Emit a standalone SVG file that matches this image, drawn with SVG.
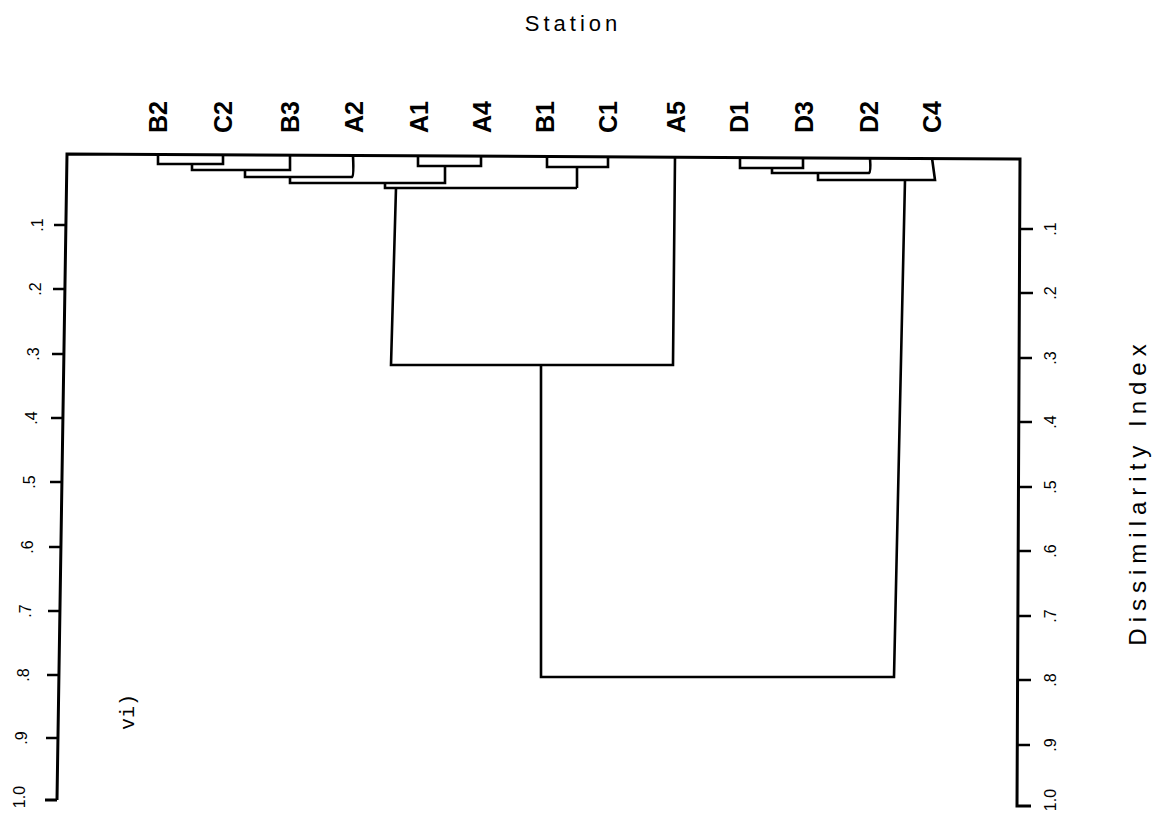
<svg xmlns="http://www.w3.org/2000/svg" width="1168" height="819" viewBox="0 0 1168 819">
  <style>
    .bg { fill: #ffffff; }
    .axis { fill: none; stroke: #000; stroke-width: 3; stroke-linejoin: miter; }
    .tick { stroke: #000; stroke-width: 2.5; }
    .link { fill: none; stroke: #000; stroke-width: 2.6; stroke-linejoin: miter; }
    .leaf { font-family: "Liberation Sans", Arial, sans-serif; font-weight: bold; font-size: 25px; fill: #000; }
    .scale { font-family: "Liberation Sans", Arial, sans-serif; font-size: 16px; fill: #000; text-anchor: middle; }
    .title { font-family: "Liberation Sans", Arial, sans-serif; font-size: 22px; fill: #000; letter-spacing: 4px; }
    .panel { font-family: "Liberation Mono", "Courier New", monospace; font-size: 20px; fill: #000; }
  </style>
  <rect class="bg" x="0" y="0" width="1168" height="819"/>

  <!-- titles -->
  <text class="title" x="573" y="31" text-anchor="middle">Station</text>
  <text class="title" transform="translate(1146,492) rotate(-90)" text-anchor="middle" style="font-size:24px;letter-spacing:6px">Dissimilarity  Index</text>
  <text class="panel" transform="translate(134,730) rotate(-90)">vi)</text>

  <!-- frame: baseline and the two dissimilarity axes -->
  <g id="axes">
    <path class="axis" d="M57,800 L45,800 M57,800 L67,154 L1020,159 L1017,806 L1031,806"/>
    <g id="left-ticks">
      <line class="tick" x1="66" y1="225" x2="54" y2="225"/>
      <line class="tick" x1="65" y1="289" x2="53" y2="289"/>
      <line class="tick" x1="64" y1="354" x2="52" y2="354"/>
      <line class="tick" x1="63" y1="418" x2="51" y2="418"/>
      <line class="tick" x1="62" y1="482" x2="50" y2="482"/>
      <line class="tick" x1="61" y1="547" x2="49" y2="547"/>
      <line class="tick" x1="60" y1="611" x2="48" y2="611"/>
      <line class="tick" x1="59" y1="675" x2="47" y2="675"/>
      <line class="tick" x1="58" y1="738" x2="46" y2="738"/>
    </g>
    <g id="right-ticks">
      <line class="tick" x1="1020" y1="229" x2="1033" y2="229"/>
      <line class="tick" x1="1020" y1="293" x2="1033" y2="293"/>
      <line class="tick" x1="1019" y1="358" x2="1032" y2="358"/>
      <line class="tick" x1="1019" y1="422" x2="1032" y2="422"/>
      <line class="tick" x1="1019" y1="487" x2="1032" y2="487"/>
      <line class="tick" x1="1018" y1="551" x2="1031" y2="551"/>
      <line class="tick" x1="1018" y1="616" x2="1031" y2="616"/>
      <line class="tick" x1="1018" y1="680" x2="1031" y2="680"/>
      <line class="tick" x1="1017" y1="745" x2="1030" y2="745"/>
    </g>
    <g id="left-labels">
      <text class="scale" transform="translate(43,225) rotate(-90)">.1</text>
      <text class="scale" transform="translate(41,289) rotate(-90)">.2</text>
      <text class="scale" transform="translate(39,354) rotate(-90)">.3</text>
      <text class="scale" transform="translate(37,418) rotate(-90)">.4</text>
      <text class="scale" transform="translate(35,482) rotate(-90)">.5</text>
      <text class="scale" transform="translate(33,547) rotate(-90)">.6</text>
      <text class="scale" transform="translate(31,611) rotate(-90)">.7</text>
      <text class="scale" transform="translate(29,675) rotate(-90)">.8</text>
      <text class="scale" transform="translate(27,738) rotate(-90)">.9</text>
      <text class="scale" transform="translate(25,797) rotate(-90)">1.0</text>
    </g>
    <g id="right-labels">
      <text class="scale" transform="translate(1056,229) rotate(-90)">.1</text>
      <text class="scale" transform="translate(1056,293) rotate(-90)">.2</text>
      <text class="scale" transform="translate(1056,358) rotate(-90)">.3</text>
      <text class="scale" transform="translate(1056,422) rotate(-90)">.4</text>
      <text class="scale" transform="translate(1056,487) rotate(-90)">.5</text>
      <text class="scale" transform="translate(1056,551) rotate(-90)">.6</text>
      <text class="scale" transform="translate(1056,616) rotate(-90)">.7</text>
      <text class="scale" transform="translate(1056,680) rotate(-90)">.8</text>
      <text class="scale" transform="translate(1056,745) rotate(-90)">.9</text>
      <text class="scale" transform="translate(1056,800) rotate(-90)">1.0</text>
    </g>
  </g>

  <!-- station leaves -->
  <g id="leaf-B2"><text class="leaf" transform="translate(167,133) rotate(-90)">B2</text></g>
  <g id="leaf-C2"><text class="leaf" transform="translate(232,133) rotate(-90)">C2</text></g>
  <g id="leaf-B3"><text class="leaf" transform="translate(299,133) rotate(-90)">B3</text></g>
  <g id="leaf-A2"><text class="leaf" transform="translate(363,133) rotate(-90)">A2</text></g>
  <g id="leaf-A1"><text class="leaf" transform="translate(428,133) rotate(-90)">A1</text></g>
  <g id="leaf-A4"><text class="leaf" transform="translate(491,133) rotate(-90)">A4</text></g>
  <g id="leaf-B1"><text class="leaf" transform="translate(554,133) rotate(-90)">B1</text></g>
  <g id="leaf-C1"><text class="leaf" transform="translate(617,133) rotate(-90)">C1</text></g>
  <g id="leaf-A5"><text class="leaf" transform="translate(685,133) rotate(-90)">A5</text></g>
  <g id="leaf-D1"><text class="leaf" transform="translate(748,133) rotate(-90)">D1</text></g>
  <g id="leaf-D3"><text class="leaf" transform="translate(813,133) rotate(-90)">D3</text></g>
  <g id="leaf-D2"><text class="leaf" transform="translate(878,133) rotate(-90)">D2</text></g>
  <g id="leaf-C4"><text class="leaf" transform="translate(941,133) rotate(-90)">C4</text></g>

  <!-- cluster joins -->
  <g id="connectors">
    <path class="link" d="M158,155 V164 H223 V155"/>
    <path class="link" d="M192,164 V170 H290 V155"/>
    <path class="link" d="M245,170 V177 H352 Q354,176 353,156"/>
    <path class="link" d="M418,156 V166 H481 V156"/>
    <path class="link" d="M445,166 V183 H290 V177"/>
    <path class="link" d="M385,183 V188 H577"/>
    <path class="link" d="M547,157 V167 H608 V157"/>
    <path class="link" d="M577,167 V188"/>
    <path class="link" d="M396,188 L391,365 H673 L675,157"/>
    <path class="link" d="M541,365 V677 H894 L905,180"/>
    <path class="link" d="M740,158 V168 H803 V158"/>
    <path class="link" d="M772,168 V173 H869 Q871,172 870,158"/>
    <path class="link" d="M818,173 V180 H935 L932,158"/>
  </g>
</svg>
